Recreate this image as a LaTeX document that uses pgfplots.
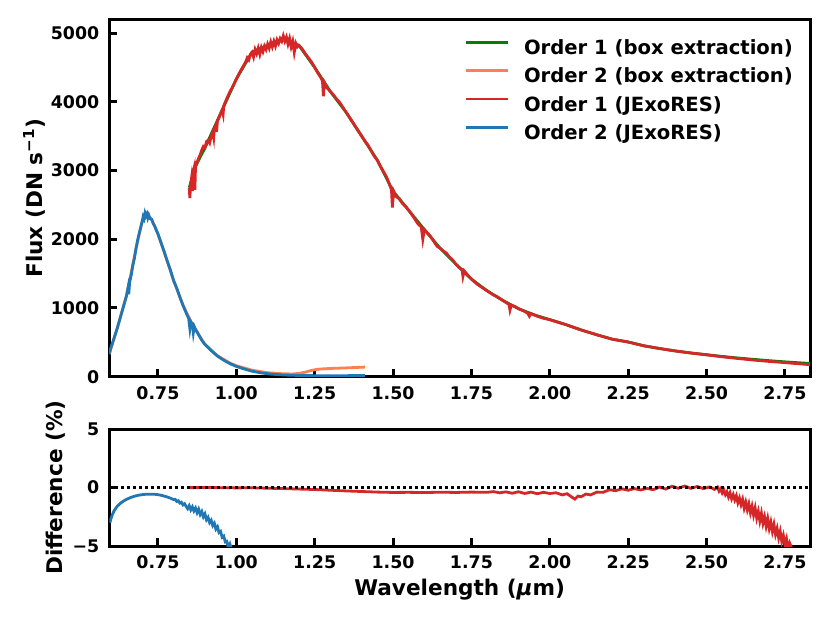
\documentclass[border=0pt]{standalone}
\usepackage{fontspec}
\setmainfont{DejaVu Sans}
\usepackage{pgfplots}
\pgfplotsset{compat=1.18}
\usepackage{pgfplotstable}
\definecolor{cgreen}{RGB}{0,128,0}
\definecolor{ccoral}{RGB}{255,127,80}
\definecolor{cred}{RGB}{214,39,40}
\definecolor{cblue}{RGB}{31,119,180}

\pgfplotstableread{
x y
0.850 2750
0.852 2600
0.854 2780
0.857 2880
0.860 2700
0.862 2980
0.866 3050
0.868 2720
0.870 3060
0.875 3120
0.880 3180
0.885 3230
0.890 3300
0.895 3350
0.900 3330
0.905 3420
0.910 3440
0.915 3400
0.920 3500
0.925 3560
0.928 3480
0.930 3600
0.935 3660
0.937 3560
0.940 3720
0.945 3770
0.950 3830
0.955 3880
0.958 3820
0.960 3940
0.970 4050
0.980 4150
0.990 4230
1.000 4330
1.010 4420
1.020 4500
1.030 4580
1.035 4640
1.040 4610
1.045 4690
1.050 4720
1.055 4650
1.060 4760
1.065 4700
1.070 4780
1.075 4690
1.080 4790
1.085 4730
1.090 4810
1.095 4760
1.100 4840
1.105 4780
1.110 4870
1.115 4800
1.120 4880
1.125 4810
1.130 4900
1.135 4850
1.140 4920
1.145 4880
1.150 4960
1.155 4880
1.160 4940
1.165 4840
1.170 4920
1.175 4800
1.180 4880
1.185 4720
1.190 4850
1.195 4800
1.200 4820
1.210 4770
1.220 4700
1.230 4640
1.240 4580
1.250 4500
1.260 4420
1.270 4350
1.275 4300
1.278 4080
1.281 4280
1.290 4200
1.300 4150
1.310 4100
1.320 4040
1.330 3990
1.340 3920
1.350 3850
1.360 3780
1.370 3710
1.380 3640
1.390 3570
1.400 3500
1.410 3430
1.420 3370
1.430 3290
1.440 3210
1.450 3150
1.460 3060
1.470 2980
1.480 2900
1.490 2780
1.495 2720
1.498 2460
1.502 2700
1.510 2620
1.520 2590
1.530 2520
1.540 2480
1.550 2420
1.560 2360
1.570 2290
1.580 2220
1.590 2180
1.595 2000
1.600 2140
1.610 2090
1.620 2040
1.630 1970
1.640 1900
1.650 1870
1.660 1830
1.670 1800
1.680 1740
1.690 1700
1.700 1640
1.710 1590
1.720 1560
1.723 1460
1.727 1540
1.740 1470
1.750 1420
1.760 1380
1.770 1340
1.780 1310
1.790 1280
1.800 1250
1.810 1220
1.820 1190
1.830 1170
1.840 1140
1.850 1110
1.860 1080
1.870 1050
1.873 970
1.877 1040
1.890 1020
1.900 990
1.910 970
1.920 950
1.930 920
1.935 880
1.940 920
1.950 900
1.960 880
1.980 850
2.000 830
2.050 760
2.100 680
2.150 610
2.200 545
2.250 505
2.300 450
2.350 410
2.400 375
2.450 345
2.500 318
2.550 290
2.600 265
2.650 242
2.700 222
2.750 205
2.800 186
2.830 175
}\redflux

\pgfplotstableread{
x y
0.850 2750
0.870 3060
0.900 3330
0.950 3830
1.000 4330
1.050 4720
1.100 4820
1.150 4920
1.200 4820
1.250 4500
1.300 4150
1.350 3850
1.400 3500
1.450 3150
1.500 2700
1.550 2420
1.600 2140
1.650 1870
1.700 1640
1.750 1420
1.800 1250
1.850 1110
1.900 990
1.950 900
2.000 830
2.050 760
2.100 680
2.150 610
2.200 545
2.250 505
2.300 450
2.350 410
2.400 375
2.450 345
2.500 320
2.550 295
2.600 272
2.650 252
2.700 233
2.750 216
2.800 201
2.830 193
}\greenflux

\pgfplotstableread{
x y
0.595 330
0.600 420
0.610 560
0.620 700
0.630 860
0.640 1020
0.650 1180
0.655 1300
0.657 1200
0.660 1380
0.665 1480
0.670 1620
0.675 1720
0.680 1860
0.685 1980
0.690 2080
0.695 2170
0.700 2260
0.703 2330
0.706 2300
0.709 2380
0.712 2340
0.715 2370
0.718 2310
0.721 2350
0.725 2300
0.730 2290
0.735 2230
0.740 2190
0.745 2130
0.750 2080
0.760 1950
0.770 1820
0.780 1680
0.790 1550
0.800 1400
0.810 1290
0.820 1160
0.830 1040
0.840 930
0.848 850
0.852 700
0.855 800
0.860 760
0.863 640
0.866 730
0.870 690
0.880 610
0.890 530
0.900 470
0.920 380
0.940 300
0.960 240
0.980 190
1.000 150
1.020 120
1.050 80
1.080 55
1.110 38
1.150 25
1.200 18
1.250 15
1.300 14
1.350 15
1.410 18
}\blueflux

\pgfplotstableread{
x y
0.595 330
0.620 700
0.650 1180
0.680 1860
0.700 2260
0.715 2370
0.730 2290
0.750 2080
0.780 1680
0.800 1400
0.830 1040
0.860 760
0.900 470
0.940 305
0.980 198
1.000 160
1.050 95
1.100 58
1.150 42
1.180 40
1.200 48
1.220 66
1.240 92
1.260 108
1.280 115
1.300 120
1.350 128
1.410 140
}\coralflux

\pgfplotstableread{
x y
0.597 -3.00
0.600 -2.70
0.605 -2.30
0.610 -2.00
0.615 -1.80
0.620 -1.60
0.630 -1.35
0.640 -1.15
0.650 -1.00
0.660 -0.88
0.670 -0.78
0.680 -0.70
0.690 -0.64
0.700 -0.60
0.710 -0.57
0.720 -0.56
0.730 -0.56
0.740 -0.57
0.750 -0.60
0.760 -0.65
0.770 -0.72
0.780 -0.80
0.790 -0.90
0.800 -1.02
0.805 -1.00
0.810 -1.18
0.815 -1.12
0.820 -1.32
0.825 -1.25
0.830 -1.48
0.835 -1.38
0.840 -1.60
0.845 -1.80
0.850 -1.55
0.855 -1.90
0.860 -1.65
0.865 -2.00
0.870 -1.75
0.875 -2.15
0.880 -1.85
0.885 -2.30
0.890 -2.05
0.895 -2.50
0.900 -2.25
0.905 -2.75
0.910 -2.55
0.915 -3.00
0.920 -2.80
0.925 -3.25
0.930 -3.05
0.935 -3.55
0.940 -3.35
0.945 -3.85
0.950 -3.75
0.955 -4.25
0.960 -4.15
0.965 -4.65
0.970 -4.60
0.975 -5.20
0.980 -4.85
0.985 -5.30
}\bluediff

\pgfplotstableread{
x y
0.850 0.00
0.900 0.01
0.950 0.00
1.000 -0.02
1.050 -0.01
1.100 -0.05
1.150 -0.08
1.200 -0.12
1.250 -0.16
1.300 -0.22
1.350 -0.28
1.400 -0.33
1.450 -0.38
1.500 -0.41
1.550 -0.40
1.600 -0.42
1.650 -0.39
1.700 -0.41
1.750 -0.38
1.800 -0.40
1.820 -0.34
1.840 -0.44
1.860 -0.36
1.880 -0.48
1.900 -0.35
1.920 -0.50
1.940 -0.38
1.960 -0.52
1.980 -0.40
2.000 -0.50
2.020 -0.44
2.040 -0.62
2.055 -0.52
2.070 -0.80
2.080 -0.98
2.090 -0.72
2.100 -0.78
2.115 -0.55
2.130 -0.62
2.150 -0.38
2.170 -0.40
2.190 -0.18
2.210 -0.26
2.230 -0.10
2.250 -0.22
2.270 -0.08
2.290 -0.20
2.310 -0.06
2.330 -0.18
2.350 0.05
2.370 -0.12
2.390 0.12
2.410 -0.05
2.430 0.14
2.450 -0.06
2.470 0.10
2.490 -0.08
2.510 0.06
2.525 -0.15
2.535 0.05
2.540 -0.30
2.545 -0.10
2.550 -0.45
2.555 -0.20
2.560 -0.60
2.565 -0.35
2.570 -0.80
2.575 -0.45
2.580 -0.95
2.585 -0.60
2.590 -1.05
2.595 -0.70
2.600 -1.30
2.605 -0.90
2.610 -1.45
2.615 -1.00
2.620 -1.75
2.625 -1.25
2.630 -1.90
2.635 -1.40
2.640 -2.15
2.645 -1.60
2.650 -2.35
2.655 -1.75
2.660 -2.60
2.665 -2.05
2.670 -2.85
2.675 -2.20
2.680 -3.05
2.685 -2.50
2.690 -3.30
2.695 -2.65
2.700 -3.50
2.705 -2.95
2.710 -3.75
2.715 -3.15
2.720 -4.00
2.725 -3.50
2.730 -4.30
2.735 -3.75
2.740 -4.60
2.745 -4.10
2.750 -4.90
2.755 -4.40
2.760 -5.30
2.765 -4.75
2.775 -5.40
}\reddiff

\pgfplotsset{
  myaxis/.style={
    scale only axis,
    width=350.35pt,
    xmin=0.595, xmax=2.83,
    axis line style={line width=1.5pt},
    tick style={line width=1.5pt, black},
    major tick length=4pt,
    tick align=inside,
    xtick pos=left, ytick pos=left,
    xtick={0.75,1.00,1.25,1.50,1.75,2.00,2.25,2.50,2.75},
    tick label style={font=\fontsize{8.7}{10}\selectfont\bfseries},
    /pgf/number format/assume math mode=true,
    xticklabel style={yshift=-1.5pt, /pgf/number format/.cd, fixed, fixed zerofill, precision=2},
    yticklabel style={xshift=-1.5pt},
    label style={font=\fontsize{10.8}{13}\selectfont\bfseries},
  }
}

\begin{document}
\begin{tikzpicture}
\begin{axis}[myaxis,
  at={(54.65pt,123.15pt)}, anchor=south west,
  height=178.7pt,
  ymin=0, ymax=5200,
  ytick={0,1000,2000,3000,4000,5000},
  yticklabel style={/pgf/number format/.cd, 1000 sep={}},
  ylabel={Flux (DN s\textsuperscript{−1})},
  ylabel style={at={(axis description cs:-0.1075,0.5)}, anchor=center},
  legend style={at={(axis description cs:0.506,0.945)}, anchor=north west,
    draw=none, fill=none, inner sep=0pt, row sep=4.2pt, column sep=7.5pt,
    nodes={inner sep=0pt, text height=7.5pt, text depth=2.5pt},
    font=\fontsize{9.8}{12}\selectfont\bfseries},
  legend cell align=left,
  legend image code/.code={\draw[#1, line width=1.4pt] (0pt,3.6pt) -- (21pt,3.6pt);},
]
\addplot[cgreen, line width=1.4pt] table {\greenflux};
\addlegendentry{Order 1 (box extraction)}
\addplot[ccoral, line width=1.4pt] table {\coralflux};
\addlegendentry{Order 2 (box extraction)}
\addplot[cred, line width=1.4pt] table {\redflux};
\addlegendentry{Order 1 (JExoRES)}
\addplot[cblue, line width=1.4pt] table {\blueflux};
\addlegendentry{Order 2 (JExoRES)}
\end{axis}

\begin{axis}[myaxis,
  at={(54.65pt,38.5pt)}, anchor=south west,
  height=58.35pt,
  ymin=-5, ymax=5,
  ytick={-5,0,5},
  yticklabels={−5,0,5},
  ylabel={Difference (\%)},
  ylabel style={at={(axis description cs:-0.0761,0.5)}, anchor=center},
  xlabel={Wavelength ({\itshape μ}m)},
  xlabel style={at={(axis description cs:0.5,-0.377)}, anchor=center},
]
\addplot[cblue, line width=1.4pt] table {\bluediff};
\addplot[cred, line width=1.4pt] table {\reddiff};
\addplot[black, line width=1.3pt, dash pattern=on 1.3pt off 1.7pt] coordinates {(0.595,0) (2.83,0)};
\end{axis}
\pgfresetboundingbox
\path[use as bounding box] (0,0) rectangle (415pt,311.5pt);
\end{tikzpicture}
\end{document}
